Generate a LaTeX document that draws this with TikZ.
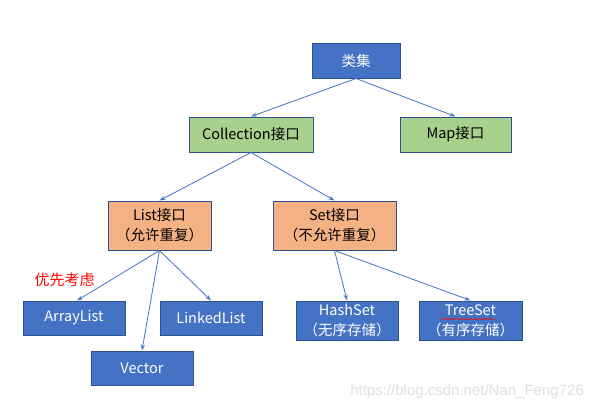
\documentclass[tikz,border=0pt]{standalone}
\usepackage{fontspec}
\setmainfont{Noto Sans CJK SC}
\newfontfamily\wmfont{Liberation Sans}
\usetikzlibrary{arrows.meta,decorations.pathmorphing}
\definecolor{bluefill}{HTML}{4472C4}
\definecolor{boxedge}{HTML}{2F528F}
\definecolor{greenfill}{HTML}{A9D18E}
\definecolor{orangefill}{HTML}{F4B183}
\definecolor{linkline}{HTML}{4472C4}
\tikzset{
  box/.style={draw=boxedge, line width=1pt, inner sep=0pt, align=center,
    font=\fontsize{14.5}{20}\selectfont},
  bluebox/.style={box, fill=bluefill, text=white},
  greenbox/.style={box, fill=greenfill, text=black},
  orangebox/.style={box, fill=orangefill, text=black},
  link/.style={draw=linkline, line width=0.8pt, -{Stealth[length=6pt,width=4pt]}},
}
\begin{document}
\begin{tikzpicture}[x=1pt,y=-1pt]
\useasboundingbox[fill=white] (0,0) rectangle (593,410);
\node[bluebox, minimum width=88pt, minimum height=35pt] (root) at (356,60.5) {类集};
\node[greenbox, minimum width=124pt, minimum height=35pt] (coll) at (251,134.5) {Collection接口};
\node[greenbox, minimum width=111pt, minimum height=35pt] (map) at (455.5,134.5) {Map接口};
\node[orangebox, minimum width=103pt, minimum height=49pt] (list) at (159.5,225.5) {List接口\\（允许重复）};
\node[orangebox, minimum width=123pt, minimum height=49pt] (set) at (334.5,225.5) {Set接口\\（不允许重复）};
\node[bluebox, minimum width=102pt, minimum height=34pt] (al) at (74,318) {ArrayList};
\node[bluebox, minimum width=102pt, minimum height=34pt] (ll) at (211,318) {LinkedList};
\node[bluebox, minimum width=102pt, minimum height=34pt] (vec) at (142,368) {Vector};
\node[bluebox, minimum width=102pt, minimum height=39pt] (hs) at (347,320.5) {HashSet\\（无序存储）};
\node[bluebox, minimum width=103pt, minimum height=39pt] (ts) at (470.5,320.5) {TreeSet\\（有序存储）};
\node[text=red, font=\fontsize{15}{17}\selectfont, inner sep=0pt] (pref) at (64.5,280) {优先考虑};
\node[text=black!12, font=\wmfont\fontsize{15}{17}\selectfont, inner sep=0pt, anchor=east] (wm) at (584,392) {https://blog.csdn.net/Nan\_Feng726};
\coordinate (tsl) at (441,319);
\coordinate (tsr) at (495,319);
\draw[red, line width=0.5pt, decorate, decoration={snake, amplitude=0.6pt, segment length=2.5pt}] (tsl) -- (tsr);
\draw[link] (root.south) -- (coll.north);
\draw[link] (root.south) -- (map.north);
\draw[link] (coll.south) -- (list.north);
\draw[link] (coll.south) -- (set.north);
\draw[link] (list.south) -- ([xshift=3pt]al.north);
\draw[link] (list.south) -- (vec.north);
\draw[link] (list.south) -- (ll.north);
\draw[link] (set.south) -- (hs.north);
\draw[link] (set.south) -- (ts.north);
\end{tikzpicture}
\end{document}
